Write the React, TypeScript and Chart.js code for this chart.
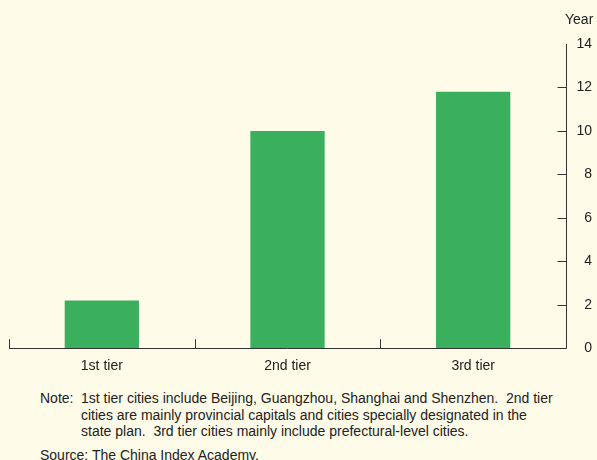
import React, { useEffect, useRef } from "react";
import { Chart, registerables } from "chart.js";

Chart.register(...registerables);

const categories = ["1st tier", "2nd tier", "3rd tier"];
const years = [2.2, 10.0, 11.8];
const yTicks = [0, 2, 4, 6, 8, 10, 12, 14];
const markTicks = [2, 4, 6, 8, 10, 12];
const unitLabel = "Year";
const noteLines = [
  "1st tier cities include Beijing, Guangzhou, Shanghai and Shenzhen.  2nd tier",
  "cities are mainly provincial capitals and cities specially designated in the",
  "state plan.  3rd tier cities mainly include prefectural-level cities.",
];
const sourceText = "Source: The China Index Academy.";

const BG = "#FEFBE9";
const GREEN = "#3AAF5E";
const INK = "#222222";
const FONT = "Liberation Sans, Arial, Helvetica, sans-serif";

export default function App() {
  const ref = useRef<HTMLCanvasElement | null>(null);

  useEffect(() => {
    document.body.style.margin = "0";
    document.body.style.background = BG;
    const ctx = ref.current!;
    const marks = {
      id: "marks",
      afterDraw(chart: any) {
        const c = chart.ctx;
        const xs = chart.scales.x;
        const ys = chart.scales.y;
        const area = chart.chartArea;
        c.save();
        c.strokeStyle = "#333";
        c.lineWidth = 1;
        const yb = ys.getPixelForValue(0);
        const ax = Math.round(area.right) + 0.5;
        // axis lines
        c.beginPath();
        c.moveTo(area.left, Math.round(yb) + 0.5);
        c.lineTo(ax, Math.round(yb) + 0.5);
        c.moveTo(ax, Math.round(yb) + 0.5);
        c.lineTo(ax, Math.round(ys.getPixelForValue(14)));
        c.stroke();
        // x category boundary ticks (pointing up)
        for (let i = 0; i < categories.length; i++) {
          const bx =
            i === 0
              ? area.left
              : (xs.getPixelForValue(i - 1) + xs.getPixelForValue(i)) / 2;
          const px = Math.round(bx) + 0.5;
          c.beginPath();
          c.moveTo(px, yb);
          c.lineTo(px, yb - 9);
          c.stroke();
        }
        // y ticks pointing left
        for (const v of markTicks) {
          const py = Math.round(ys.getPixelForValue(v)) + 0.5;
          c.beginPath();
          c.moveTo(ax - 9, py);
          c.lineTo(ax, py);
          c.stroke();
        }
        c.fillStyle = INK;
        c.font = `14px ${FONT}`;
        c.textBaseline = "middle";
        c.textAlign = "right";
        for (const v of yTicks) {
          c.fillText(String(v), area.right + 26, ys.getPixelForValue(v));
        }
        c.textAlign = "left";
        c.fillText(unitLabel, area.right - 1, ys.getPixelForValue(14) - 24);
        c.restore();
      },
    };
    const chart = new Chart(ctx, {
      type: "bar",
      data: {
        labels: categories,
        datasets: [
          {
            data: years,
            backgroundColor: GREEN,
            borderWidth: 0,
            categoryPercentage: 0.4,
            barPercentage: 1,
          },
        ],
      },
      options: {
        animation: false,
        responsive: false,
        maintainAspectRatio: false,
        layout: { padding: { left: 9, right: 31, top: 44, bottom: 5 } },
        plugins: { legend: { display: false }, tooltip: { enabled: false } },
        scales: {
          x: {
            grid: { display: false, drawTicks: false },
            border: { display: false },
            ticks: {
              color: INK,
              font: { family: FONT, size: 14 },
              padding: 10,
            },
          },
          y: {
            display: false,
            position: "right",
            min: 0,
            max: 14,
          },
        },
      },
      plugins: [marks],
    } as any);
    return () => chart.destroy();
  }, []);

  const textStyle: React.CSSProperties = {
    position: "absolute",
    fontFamily: FONT,
    fontSize: 14,
    color: INK,
    lineHeight: "16.5px",
    whiteSpace: "pre",
  };

  return (
    <div
      style={{
        position: "absolute",
        left: 0,
        top: 0,
        width: 597,
        height: 460,
        background: BG,
        overflow: "hidden",
      }}
    >
      <canvas ref={ref} width={597} height={390} style={{ display: "block" }} />
      <div style={{ ...textStyle, left: 40, top: 390 }}>Note:</div>
      <div style={{ ...textStyle, left: 81, top: 390 }}>
        {noteLines.map((l, i) => (
          <div key={i}>{l}</div>
        ))}
      </div>
      <div style={{ ...textStyle, left: 40, top: 447 }}>{sourceText}</div>
    </div>
  );
}
